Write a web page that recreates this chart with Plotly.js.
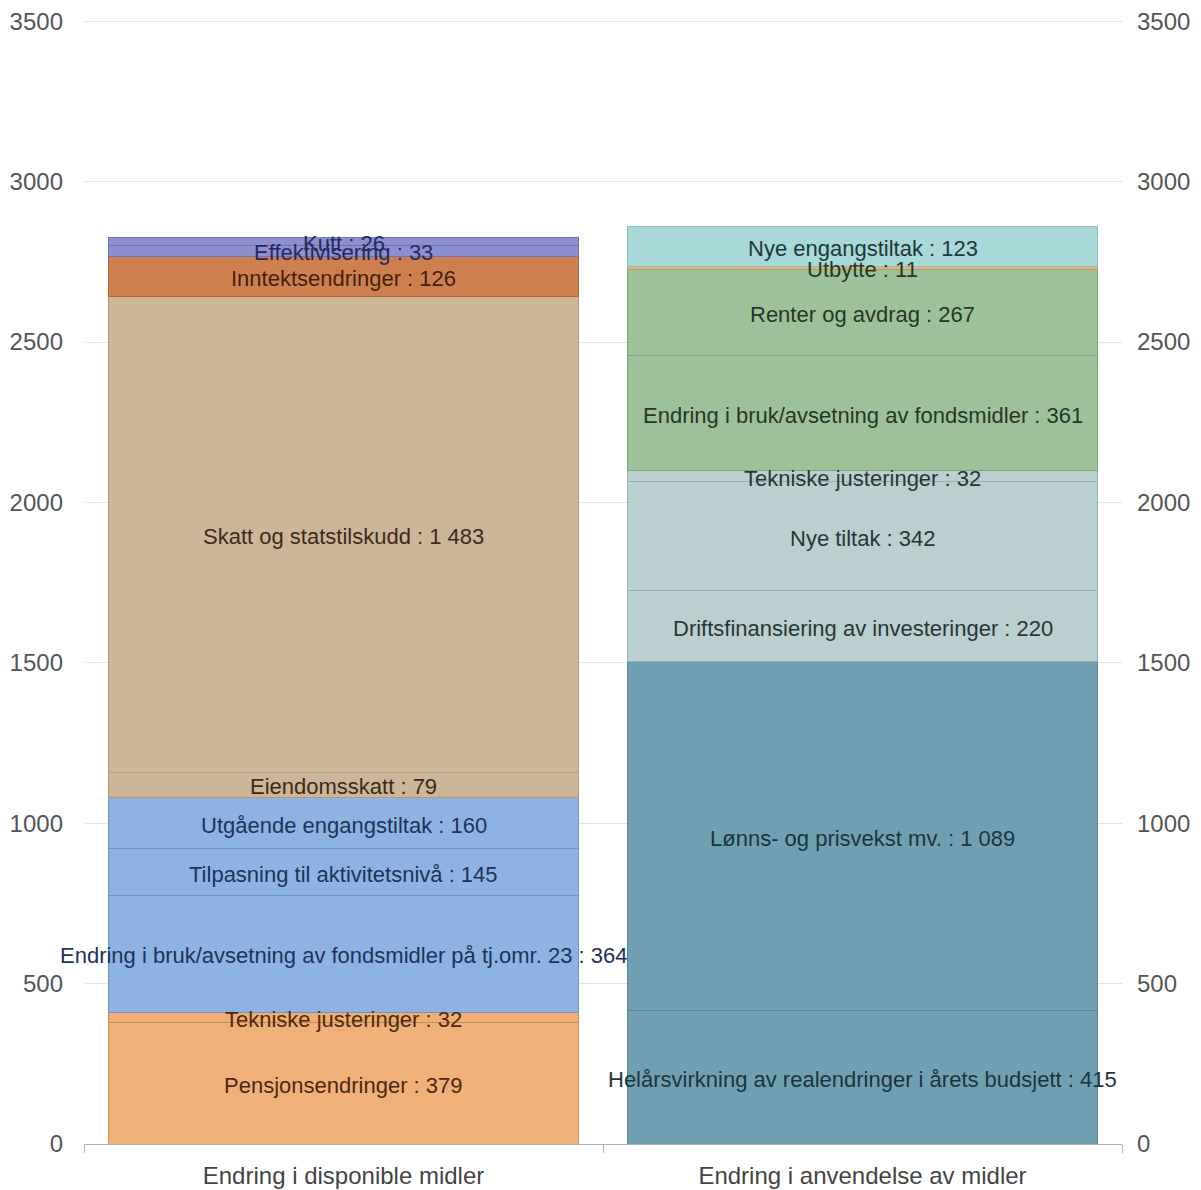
<!DOCTYPE html>
<html>
<head>
<meta charset="utf-8">
<script src="https://cdn.plot.ly/plotly-3.0.1.min.js"></script>
<style>html,body{margin:0;padding:0;background:#fff;}#chart{width:1201px;height:1190px;}</style>
</head>
<body>
<div id="chart"></div>
<script>
// ---- data ----
const categories = ['Endring i disponible midler', 'Endring i anvendelse av midler'];

const leftNames = ['Pensjonsendringer', 'Tekniske justeringer', 'Endring i bruk/avsetning av fondsmidler på tj.omr. 23', 'Tilpasning til aktivitetsnivå', 'Utgående engangstiltak', 'Eiendomsskatt', 'Skatt og statstilskudd', 'Inntektsendringer', 'Effektivisering', 'Kutt'];
const leftValues = [379, 32, 364, 145, 160, 79, 1483, 126, 33, 26];

const rightNames = ['Helårsvirkning av realendringer i årets budsjett', 'Lønns- og prisvekst mv.', 'Driftsfinansiering av investeringer', 'Nye tiltak', 'Tekniske justeringer', 'Endring i bruk/avsetning av fondsmidler', 'Renter og avdrag', 'Utbytte', 'Nye engangstiltak'];
const rightValues = [415, 1089, 220, 342, 32, 361, 267, 11, 123];

const yTicks = [0, 500, 1000, 1500, 2000, 2500, 3000, 3500];

// ---- styles ----
const leftFill = ['#f0b07a', '#f1ae74', '#8db3e2', '#8db3e2', '#8db3e2', '#cdb598', '#cdb598', '#cd7f50', '#8e8fcf', '#8e8fcf'];
const leftLine = ['#d9955e', '#c98a55', '#6f93c4', '#6f93c4', '#6f93c4', '#b39a7c', '#b39a7c', '#b0653a', '#7073b4', '#7073b4'];
const leftText = ['#4a2a10', '#4a2a10', '#1d3358', '#1d3358', '#1d3358', '#3a2c1c', '#3a2c1c', '#451f08', '#262a5e', '#262a5e'];

const rightFill = ['#6fa0b2', '#6fa0b2', '#bacfcf', '#bacfcf', '#bacfcf', '#9dc29a', '#9dc29a', '#dcb77a', '#a8d8d8'];
const rightLine = ['#5a8798', '#5a8798', '#97afaf', '#97afaf', '#97afaf', '#80a47d', '#80a47d', '#c09a5c', '#8dbcbc'];
const rightText = ['#1c3440', '#1c3440', '#2a3636', '#2a3636', '#2a3636', '#263824', '#263824', '#263824', '#213838'];

const FONT = 'Liberation Sans, Arial, sans-serif';

function fmt(v) {
  return String(v).replace(/\B(?=(\d{3})+(?!\d))/g, ' ');
}

const traces = [];
const annotations = [];
function addStack(catIndex, names, values, fills, lines, texts) {
  let base = 0;
  names.forEach((n, i) => {
    traces.push({
      type: 'bar',
      name: n,
      x: [categories[catIndex]],
      y: [values[i]],
      marker: {color: fills[i], line: {color: lines[i], width: 1}},
      hoverinfo: 'skip',
      showlegend: false
    });
    // label centred in its segment, drawn above all bars
    annotations.push({
      x: categories[catIndex], xref: 'x',
      y: base + values[i] / 2, yref: 'y',
      text: n + ' : ' + fmt(values[i]),
      showarrow: false,
      xanchor: 'center', yanchor: 'middle',
      yshift: -2,
      font: {family: FONT, size: 22, color: texts[i]}
    });
    base += values[i];
  });
}
addStack(0, leftNames, leftValues, leftFill, leftLine, leftText);
addStack(1, rightNames, rightValues, rightFill, rightLine, rightText);

// invisible trace to activate the right-hand axis
const axisTrace = {
  type: 'scatter', mode: 'lines', x: categories, y: [0, 0], yaxis: 'y2',
  line: {width: 0}, opacity: 0, hoverinfo: 'skip', showlegend: false
};

const layout = {
  width: 1201, height: 1190,
  margin: {l: 84, r: 79, t: 19, b: 46},
  paper_bgcolor: '#ffffff', plot_bgcolor: '#ffffff',
  barmode: 'stack',
  bargap: 0.094,
  showlegend: false,
  font: {family: FONT, size: 24, color: '#555555'},
  annotations: annotations,
  xaxis: {
    type: 'category',
    range: [-0.5, 1.5],
    showgrid: false,
    showline: true, linecolor: '#b0b0b0', linewidth: 1,
    ticks: 'outside', tickson: 'boundaries', ticklen: 8, tickcolor: '#b0b0b0',
    tickfont: {family: FONT, size: 24, color: '#444444'},
    ticklabelstandoff: 10,
    fixedrange: true
  },
  yaxis: {
    range: [0, 3507],
    tickvals: yTicks,
    ticktext: yTicks.map(String),
    showgrid: true, gridcolor: '#e3e3e3', gridwidth: 1,
    zeroline: false, showline: false, ticks: '',
    ticklabelstandoff: 20,
    tickfont: {family: FONT, size: 24, color: '#555555'},
    fixedrange: true
  },
  yaxis2: {
    overlaying: 'y', side: 'right',
    range: [0, 3507],
    tickvals: yTicks,
    ticktext: yTicks.map(String),
    showgrid: false, zeroline: false, showline: false, ticks: '',
    ticklabelstandoff: 14,
    tickfont: {family: FONT, size: 24, color: '#555555'},
    fixedrange: true
  }
};

Plotly.newPlot('chart', traces.concat([axisTrace]), layout, {displayModeBar: false, staticPlot: true});
</script>
</body>
</html>
